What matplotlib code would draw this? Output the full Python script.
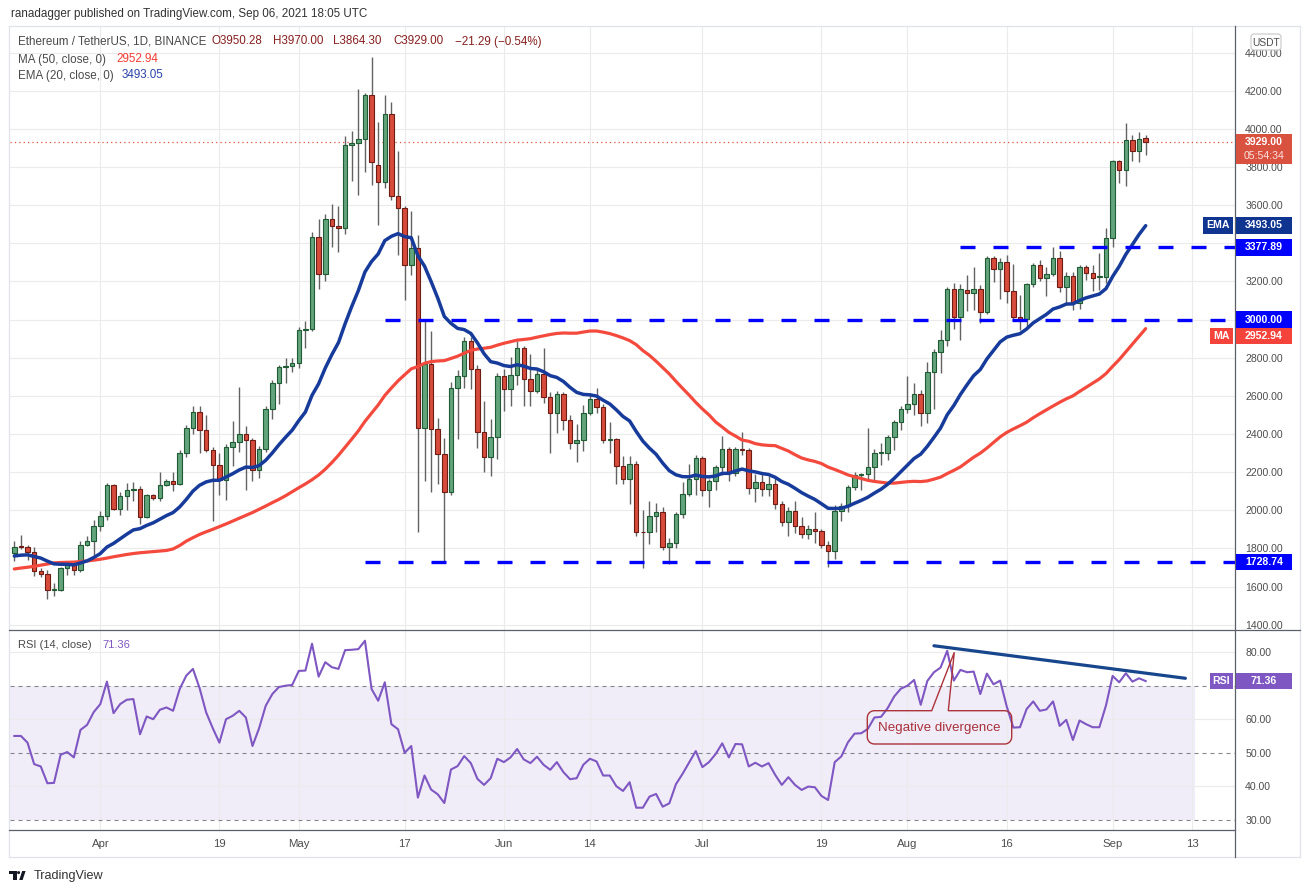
import matplotlib.pyplot as plt
import numpy as np
import pandas as pd
from matplotlib.patches import Rectangle, FancyBboxPatch, Polygon, Circle
from matplotlib.lines import Line2D
from matplotlib.transforms import Affine2D
from matplotlib.ticker import FuncFormatter

plt.rcParams['font.family'] = ['Liberation Sans', 'DejaVu Sans']

W, H = 1307, 893

# ETH/USDT daily candles, 2021-03-19 .. 2021-09-06
start = pd.Timestamp('2021-03-19')

opens = [1776, 1810, 1806, 1782, 1682, 1666, 1582, 1581, 1698, 1712,
         1686, 1818, 1839, 1919, 1970, 2132, 2007, 2077, 2106, 2111,
         1967, 2080, 2064, 2132, 2153, 2138, 2300, 2431, 2514, 2420,
         2316, 2237, 2160, 2332, 2358, 2400, 2368, 2209, 2321, 2530,
         2667, 2751, 2755, 2772, 2946, 2948, 3432, 3238, 3527, 3490,
         3480, 3914, 3925, 3946, 4178, 3811, 3720, 4079, 3649, 3584,
         3285, 3375, 2433, 2766, 2428, 2294, 2093, 2642, 2702, 2885,
         2738, 2409, 2278, 2383, 2702, 2634, 2707, 2853, 2686, 2627,
         2712, 2592, 2508, 2608, 2473, 2351, 2369, 2508, 2581, 2540,
         2369, 2373, 2233, 2164, 2244, 1887, 1885, 1972, 1991, 1808,
         1829, 1981, 2085, 2164, 2274, 2105, 2155, 2227, 2321, 2195,
         2321, 2314, 2115, 2150, 2112, 2139, 2033, 1939, 1998, 1916,
         1876, 1899, 1893, 1819, 1785, 1997, 2023, 2122, 2185, 2190,
         2227, 2300, 2302, 2384, 2463, 2531, 2557, 2609, 2510, 2724,
         2829, 2894, 3159, 3012, 3155, 3141, 3159, 3042, 3321, 3263,
         3304, 3147, 3012, 3002, 3186, 3286, 3219, 3239, 3320, 3169,
         3226, 3089, 3273, 3242, 3222, 3225, 3430, 3829, 3786, 3939,
         3883, 3950.28]
highs = [1839, 1872, 1820, 1808, 1698, 1689, 1619, 1700, 1733, 1727,
         1839, 1864, 1951, 1995, 2143, 2139, 2094, 2143, 2148, 2125,
         2087, 2087, 2200, 2165, 2199, 2317, 2448, 2544, 2549, 2497,
         2330, 2300, 2349, 2470, 2646, 2443, 2378, 2335, 2545, 2684,
         2763, 2798, 2798, 2960, 2990, 3457, 3527, 3554, 3607, 3593,
         3963, 3989, 4210, 4187, 4379, 4038, 4178, 4138, 3886, 3593,
         3570, 3441, 2997, 2939, 2482, 2377, 2674, 2735, 2909, 2909,
         2761, 2573, 2479, 2717, 2738, 2805, 2888, 2862, 2819, 2738,
         2850, 2618, 2625, 2622, 2500, 2452, 2552, 2613, 2639, 2555,
         2465, 2378, 2282, 2282, 2260, 2000, 2047, 2038, 2018, 1852,
         1990, 2146, 2244, 2291, 2282, 2164, 2239, 2390, 2329, 2329,
         2411, 2326, 2192, 2195, 2181, 2169, 2047, 2018, 2047, 1965,
         1920, 1991, 1899, 1841, 2030, 2038, 2134, 2201, 2196, 2431,
         2321, 2353, 2396, 2475, 2545, 2702, 2667, 2632, 2777, 2846,
         2946, 3173, 3190, 3187, 3234, 3274, 3181, 3333, 3333, 3321,
         3339, 3291, 3129, 3193, 3298, 3312, 3277, 3381, 3361, 3249,
         3249, 3286, 3286, 3286, 3347, 3481, 3838, 3834, 4029, 3970,
         3981, 3970.00]
lows = [1733, 1795, 1741, 1654, 1651, 1532, 1549, 1578, 1663, 1659,
        1675, 1810, 1764, 1890, 1947, 2000, 1975, 1999, 2049, 1928,
        1960, 2055, 2050, 2125, 2101, 2130, 2277, 2401, 2300, 2305,
        1942, 2082, 2052, 2234, 2304, 2104, 2152, 2169, 2304, 2478,
        2557, 2667, 2723, 2746, 2850, 2940, 3160, 3200, 3378, 3352,
        3448, 3724, 3651, 3771, 3703, 3497, 3692, 3628, 3340, 3100,
        3235, 1884, 2151, 2098, 2138, 1729, 2081, 2376, 2639, 2634,
        2325, 2203, 2177, 2267, 2522, 2548, 2656, 2548, 2548, 2613,
        2564, 2302, 2404, 2421, 2320, 2255, 2308, 2500, 2508, 2351,
        2302, 2138, 2139, 2035, 1864, 1699, 1821, 1885, 1791, 1720,
        1803, 1960, 2073, 2081, 2073, 2017, 2108, 2186, 2155, 2181,
        2288, 2085, 2042, 2073, 2077, 2007, 1916, 1864, 1882, 1852,
        1850, 1829, 1803, 1703, 1742, 1946, 1990, 2105, 2105, 2152,
        2147, 2239, 2262, 2314, 2419, 2510, 2501, 2440, 2457, 2531,
        2719, 2862, 2949, 2894, 3047, 3051, 2981, 3030, 3199, 3108,
        3085, 2990, 2946, 2955, 3172, 3202, 3125, 3228, 3146, 3077,
        3051, 3056, 3207, 3150, 3155, 3193, 3381, 3716, 3699, 3831,
        3826, 3864.30]
closes = [1808, 1805, 1782, 1680, 1666, 1581, 1583, 1698, 1712, 1686,
          1818, 1839, 1919, 1970, 2132, 2007, 2077, 2106, 2111, 1967,
          2080, 2064, 2132, 2153, 2138, 2300, 2431, 2514, 2420, 2316,
          2237, 2160, 2332, 2358, 2400, 2368, 2209, 2321, 2530, 2667,
          2751, 2755, 2772, 2946, 2948, 3432, 3238, 3527, 3488, 3480,
          3914, 3925, 3946, 4178, 3825, 3720, 4079, 3649, 3584, 3285,
          3375, 2433, 2766, 2428, 2294, 2093, 2642, 2702, 2885, 2738,
          2409, 2278, 2383, 2702, 2634, 2707, 2853, 2686, 2627, 2712,
          2592, 2508, 2608, 2473, 2351, 2369, 2508, 2581, 2540, 2369,
          2372, 2230, 2164, 2244, 1887, 1885, 1972, 1991, 1808, 1829,
          1981, 2085, 2164, 2274, 2105, 2155, 2227, 2321, 2195, 2321,
          2314, 2115, 2150, 2112, 2139, 2033, 1939, 1998, 1916, 1876,
          1899, 1893, 1819, 1785, 1997, 2023, 2122, 2185, 2190, 2227,
          2300, 2302, 2384, 2463, 2531, 2557, 2609, 2510, 2724, 2829,
          2894, 3159, 3012, 3159, 3141, 3159, 3042, 3321, 3263, 3304,
          3147, 3012, 3002, 3186, 3286, 3219, 3239, 3320, 3169, 3226,
          3089, 3273, 3242, 3219, 3228, 3430, 3829, 3786, 3939, 3883,
          3948, 3929.00]

# RSI(14) as plotted
rsi = [55, 55, 53, 46.6, 45.9, 40.9, 41, 49.4, 50.2, 48.6,
       56.8, 58.3, 62.1, 64.5, 71.2, 61.8, 64.5, 65.8, 66, 55.5,
       60.8, 60, 62.8, 63.5, 62.5, 69, 73, 75, 69.3, 62,
       57.3, 53, 60, 61, 62.5, 60.5, 52, 57.3, 64, 67.5,
       69.6, 70, 70.2, 74.4, 74.5, 82.5, 72.7, 77, 75.5, 75,
       80.6, 80.7, 80.9, 83.4, 69, 65.5, 71, 58.5, 57, 50,
       52, 36.6, 43.2, 39, 37.6, 35, 45, 46, 49, 46.9,
       42.2, 40.4, 42.4, 48.2, 47.2, 48.6, 51.1, 48, 46.9, 48.8,
       46.4, 44.9, 47.2, 44.2, 42.1, 42.4, 46.4, 48.2, 47.4, 43.2,
       43.2, 40, 38.6, 41.2, 33.6, 33.6, 36.9, 37.7, 33.9, 34.9,
       40.6, 43.7, 47.1, 50.5, 45.7, 47.2, 49.6, 52.8, 48.6, 52.6,
       52.5, 45.9, 47, 45.9, 46.9, 43.4, 40.4, 42.7, 40.4, 38.9,
       39.9, 39.7, 37.1, 35.9, 47.2, 48.9, 53.1, 55.7, 55.8, 57.1,
       60.5, 60.7, 63.3, 66.8, 69.1, 70, 71.7, 64.3, 71.4, 74,
       75.4, 80.4, 71.5, 74.7, 74, 74.2, 67.5, 73.6, 70.4, 71.5,
       63.8, 57.5, 57.6, 63, 65.3, 62.5, 62.9, 65.3, 58, 59.8,
       53.8, 59.6, 58.5, 57.6, 57.6, 64.1, 72.9, 71, 73.7, 71.2,
       72.2, 71.36]

# MA50 for the first 49 days (earlier history is not on the chart)
ma50_head = [1692, 1697, 1701, 1706, 1712, 1718, 1724, 1726, 1727, 1728,
             1731, 1734, 1738, 1743, 1749, 1756, 1762, 1768, 1773, 1777,
             1780, 1783, 1786, 1789, 1797, 1815, 1838, 1856, 1873, 1887,
             1900, 1914, 1928, 1943, 1958, 1973, 1988, 2005, 2022, 2040,
             2057, 2076, 2097, 2118, 2138, 2160, 2185, 2215, 2250]
ema_seed = 1760

levels = [3377.89, 3000.00, 1728.74]
level_from = ['2021-08-09', '2021-05-14', '2021-05-11']

tick_dates = ['2021-04-01', '2021-04-19', '2021-05-01', '2021-05-17', '2021-06-01', '2021-06-14',
              '2021-07-01', '2021-07-19', '2021-08-01', '2021-08-16', '2021-09-01', '2021-09-13']
tick_labels = ['Apr', '19', 'May', '17', 'Jun', '14', 'Jul', '19', 'Aug', '16', 'Sep', '13']

trend_dates = ['2021-08-05', '2021-09-12']
trend_rsi = [81.9, 72.2]


def day(d):
    return (pd.Timestamp(d) - start).days


n = len(closes)
x = np.arange(n)
o, h, l, c = (np.array(v, float) for v in (opens, highs, lows, closes))

ema = [ema_seed]
for v in closes[1:]:
    ema.append(ema[-1] + (v - ema[-1]) * 2 / 21)
ma50 = pd.Series(closes).rolling(50).mean().to_numpy()
ma50[:49] = ma50_head

fig = plt.figure(figsize=(W / 100, H / 100), dpi=100)
T = Affine2D().scale(1 / W, -1 / H).translate(0, 1) + fig.transFigure

ax = fig.add_axes([10 / W, 1 - 630 / H, 1225 / W, 604 / H])
ar = fig.add_axes([10 / W, 1 - 829.5 / H, 1225 / W, 199.5 / H], sharex=ax)
xmin, xmax = -0.65, 184.5
ax.set_xlim(xmin, xmax)
ax.set_ylim(1372, 4539)
ar.set_ylim(27.1, 86.6)


def fmt(hidden):
    # labels sitting under a coloured value box are not shown
    return FuncFormatter(lambda v, p: '' if round(v) in hidden else f'{v:.2f}')


for a, hidden in ((ax, {3000, 3400}), (ar, {70})):
    for s in a.spines.values():
        s.set_visible(False)
    a.yaxis.tick_right()
    a.tick_params(axis='y', length=0, pad=7.3, labelsize=7.6, labelcolor='#4d4d4d')
    a.yaxis.set_major_formatter(fmt(hidden))
    a.set_axisbelow(True)

ax.set_xticks([day(d) for d in tick_dates])
ar.set_xticklabels(tick_labels)
ax.tick_params(axis='x', length=0, labelbottom=False)
ar.tick_params(axis='x', length=0, pad=6.5, labelsize=8.2, labelcolor='#4d4d4d')
ax.set_yticks(np.arange(1400, 4401, 200))
ar.set_yticks([30, 40, 50, 60, 70, 80])
ax.grid(True, color='#ebebeb', lw=0.8)
ar.grid(axis='x', color='#ebebeb', lw=0.8)

# candles
up = c >= o
body_c = np.where(up, '#62a47b', '#d64b3b')
edge_c = np.where(up, '#1f5b33', '#6e1c14')
ax.vlines(x, l, h, color='#626262', lw=1.0, zorder=2)
ax.bar(x, np.maximum(np.abs(c - o), 3), bottom=np.minimum(o, c), width=0.68,
       color=body_c, edgecolor=edge_c, lw=0.8, zorder=3)

ax.plot(x, ma50, color='#f44a3e', lw=2.3, zorder=4, solid_capstyle='round')
ax.plot(x, ema, color='#163b9a', lw=2.5, zorder=4, solid_capstyle='round')
ax.axhline(closes[-1], color='#e0533f', lw=0.9, ls=(0, (1, 2.5)), zorder=1.5)
for lv, d0 in zip(levels, level_from):
    ax.hlines(lv, day(d0), xmax, colors='#0000ff', lw=2.4, linestyles=(0, (4.5, 5.4)), zorder=5)

# RSI pane
ar.fill_between([xmin, 178.5], 30, 70, color='#7e57c2', alpha=0.1, lw=0, zorder=0.4)
for lv in (40, 60, 80):
    ar.axhline(lv, color='#ebebeb', lw=0.8, zorder=0.5)
for lv in (30, 50, 70):
    ar.axhline(lv, color='#85878f', lw=0.8, ls=(0, (3.6, 3.6)), zorder=0.6)
ar.plot(x, rsi, color='#7e57c2', lw=1.5, zorder=3)
ar.plot([day(d) for d in trend_dates], trend_rsi, color='#17468d', lw=2.3, zorder=4,
        solid_capstyle='round')

# callout "Negative divergence"
L, R, Tp, B, r = 867.3, 1011.7, 710.7, 744.0, 7
ang = np.linspace(0, np.pi / 2, 8)
pts = [(931.7, Tp), (954.3, 652.3), (948.3, Tp), (R - r, Tp)]
pts += [(R - r + r * np.sin(t), Tp + r - r * np.cos(t)) for t in ang]
pts += [(R - r + r * np.cos(t), B - r + r * np.sin(t)) for t in ang]
pts += [(L + r - r * np.sin(t), B - r + r * np.cos(t)) for t in ang]
pts += [(L + r - r * np.cos(t), Tp + r - r * np.sin(t)) for t in ang]
fig.add_artist(Polygon(pts, closed=True, transform=T, fc='none', ec='#ab333b', lw=1.0, zorder=5))
fig.text(939.5, 728, 'Negative divergence', transform=T, ha='center', va='center',
         fontsize=9.6, color='#a8303a', zorder=6)


def py(a, v):
    return H - a.transData.transform((0, v))[1]


def price_label(yc, text, color, tag=None, tag_x0=None, sub=None, hh=16.5):
    top = yc - hh / 2
    height = hh + (13 if sub else 0)
    fig.add_artist(Rectangle((1236, top), 56, height, transform=T, color=color, lw=0, zorder=6))
    fig.text(1264, yc, text, transform=T, ha='center', va='center', color='white',
             fontsize=7.6, fontweight='bold', zorder=7)
    if sub:
        fig.text(1264, yc + 13.5, sub, transform=T, ha='center', va='center', color='#fbe3df',
                 fontsize=7.6, zorder=7)
    if tag:
        fig.add_artist(Rectangle((tag_x0, top), 1233 - tag_x0, hh, transform=T, color=color, lw=0, zorder=6))
        fig.text((tag_x0 + 1233) / 2, yc, tag, transform=T, ha='center', va='center', color='white',
                 fontsize=7.6, fontweight='bold', zorder=7)


price_label(py(ax, closes[-1]), f'{closes[-1]:.2f}', '#d9513f', sub='05:54:34')
price_label(py(ax, 3493.05), '3493.05', '#0f3591', tag='EMA', tag_x0=1203)
price_label(py(ax, levels[0]), f'{levels[0]:.2f}', '#0000ff')
price_label(py(ax, levels[1]), f'{levels[1]:.2f}', '#0000ff')
price_label(py(ax, 2952.94) + 7.5, '2952.94', '#f4433b', tag='MA', tag_x0=1210)
price_label(py(ax, levels[2]), f'{levels[2]:.2f}', '#0000ff')
price_label(py(ar, rsi[-1]), f'{rsi[-1]:.2f}', '#7e57c2', tag='RSI', tag_x0=1210)

fig.add_artist(FancyBboxPatch((1251, 34), 30, 16, boxstyle='round,pad=0,rounding_size=3',
                              transform=T, fc='white', ec='#c6c6c6', lw=0.8, zorder=6))
fig.text(1266, 42.5, 'USDT', transform=T, ha='center', va='center', fontsize=7.4,
         color='#4d4d4d', zorder=7)

# frame
frame = [((9, 26), (1300, 26), '#e0e3eb'), ((9, 857), (1300, 857), '#e0e3eb'),
         ((9, 26), (9, 857), '#e0e3eb'), ((1300, 26), (1300, 857), '#e0e3eb'),
         ((1235, 26), (1235, 857), '#5d606b'), ((9, 630), (1300, 630), '#5d606b'),
         ((9, 829.5), (1235, 829.5), '#5d606b')]
for p0, p1, col in frame:
    fig.add_artist(Line2D([p0[0], p1[0]], [p0[1], p1[1]], transform=T, color=col, lw=0.9, zorder=5))

# header and legends
fig.text(11, 14.5, 'ranadagger published on TradingView.com, Sep 06, 2021 18:05 UTC',
         transform=T, va='center', fontsize=8.4, color='#333333')
fig.text(18, 41.5, 'Ethereum / TetherUS, 1D, BINANCE', transform=T, va='center',
         fontsize=8.4, color='#4a4a4a')
ohlc_red = '#86201f'
for xp, s in [(211, f'O{opens[-1]:.2f}'), (273, f'H{highs[-1]:.2f}'), (333, f'L{lows[-1]:.2f}'),
              (393, f'C{closes[-1]:.2f}'), (455, '\u221221.29 (\u22120.54%)')]:
    fig.text(xp, 41.5, s, transform=T, va='center', fontsize=8.4, color=ohlc_red)
fig.text(18, 59.5, 'MA (50, close, 0)', transform=T, va='center', fontsize=8.4, color='#4a4a4a')
fig.text(116, 59.5, '2952.94', transform=T, va='center', fontsize=8.4, color='#f23c32')
fig.text(18, 75.5, 'EMA (20, close, 0)', transform=T, va='center', fontsize=8.4, color='#4a4a4a')
fig.text(122, 75.5, '3493.05', transform=T, va='center', fontsize=8.4, color='#2a43a8')
fig.text(18, 645.5, 'RSI (14, close)', transform=T, va='center', fontsize=8.0, color='#4a4a4a')
fig.text(102, 645.5, f'{rsi[-1]:.2f}', transform=T, va='center', fontsize=8.0, color='#7e57c2')

# TradingView logo
logo = '#131722'
fig.add_artist(Rectangle((9.3, 871), 7.4, 2.6, transform=T, color=logo, lw=0))
fig.add_artist(Rectangle((12.8, 871), 3.9, 9, transform=T, color=logo, lw=0))
fig.add_artist(Circle((18.6, 872.6), 1.5, transform=T, color=logo, lw=0))
fig.add_artist(Polygon([(19.2, 880), (22.6, 880), (25.6, 871), (22.2, 871)], transform=T,
                       color=logo, lw=0))
fig.text(33.5, 876, 'TradingView', transform=T, va='center', fontsize=9.1, color='#333333')

fig.savefig('out.png', dpi=100)
